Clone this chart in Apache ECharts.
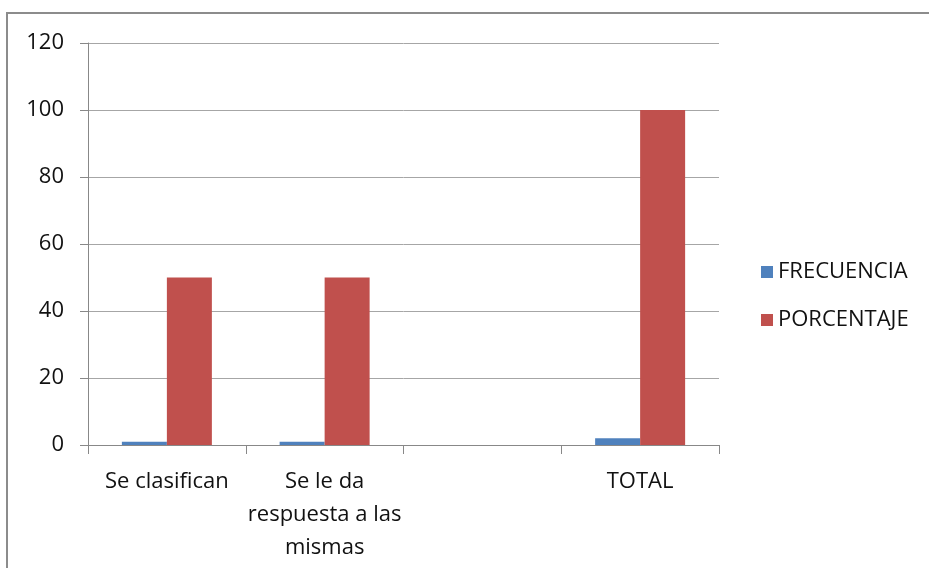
<!DOCTYPE html>
<html>
<head>
<meta charset="utf-8">
<script src="https://cdn.jsdelivr.net/npm/echarts@6/dist/echarts.min.js"></script>
<style>
  html, body { margin: 0; padding: 0; background: #fff; }
  #chart { width: 929px; height: 568px; }
</style>
</head>
<body>
<div id="chart"></div>
<script>
// Categories along the x axis (third slot is left blank)
const categories = ['Se clasifican', 'Se le da\nrespuesta a las\nmismas', '', 'TOTAL'];
// Series values
const frecuencia = [1, 1, null, 2];
const porcentaje = [50, 50, null, 100];
// Value axis range
const yMin = 0, yMax = 120, yStep = 20;

const FONT = 'Open Sans';
const chart = echarts.init(document.getElementById('chart'), null, { renderer: 'canvas' });

chart.setOption({
  animation: false,
  backgroundColor: '#ffffff',
  textStyle: { fontFamily: FONT },
  graphic: [{
    type: 'rect',
    shape: { x: 7, y: 13, width: 940, height: 580 },
    style: { fill: 'none', stroke: '#8c8c8c', lineWidth: 2 },
    silent: true
  }],
  grid: { left: 88, right: 210, top: 43, bottom: 123, containLabel: false },
  legend: {
    orient: 'vertical',
    left: 756,
    top: 256,
    itemWidth: 12,
    itemHeight: 12,
    itemGap: 26,
    icon: 'rect',
    textStyle: { fontFamily: FONT, fontSize: 22, color: '#111' },
    data: ['FRECUENCIA', 'PORCENTAJE']
  },
  xAxis: {
    type: 'category',
    data: categories,
    axisLine: { lineStyle: { color: '#888', width: 1 } },
    axisTick: { show: true, alignWithLabel: false, length: 9, lineStyle: { color: '#888' } },
    axisLabel: {
      interval: 0,
      fontFamily: FONT,
      fontSize: 22,
      lineHeight: 33,
      color: '#111',
      margin: 20
    }
  },
  yAxis: {
    type: 'value',
    min: yMin,
    max: yMax,
    interval: yStep,
    axisLine: { show: true, lineStyle: { color: '#888', width: 1 } },
    axisTick: { show: true, length: 8, lineStyle: { color: '#888' } },
    splitLine: { lineStyle: { color: '#a6a6a6', width: 1 } },
    axisLabel: { fontFamily: FONT, fontSize: 22, color: '#111', margin: 24 }
  },
  series: [
    {
      name: 'FRECUENCIA',
      type: 'bar',
      data: frecuencia,
      barWidth: 45,
      barGap: '0%',
      itemStyle: { color: '#4F81BD' }
    },
    {
      name: 'PORCENTAJE',
      type: 'bar',
      data: porcentaje,
      barWidth: 45,
      barGap: '0%',
      itemStyle: { color: '#C0504D' }
    }
  ]
});
</script>
</body>
</html>
